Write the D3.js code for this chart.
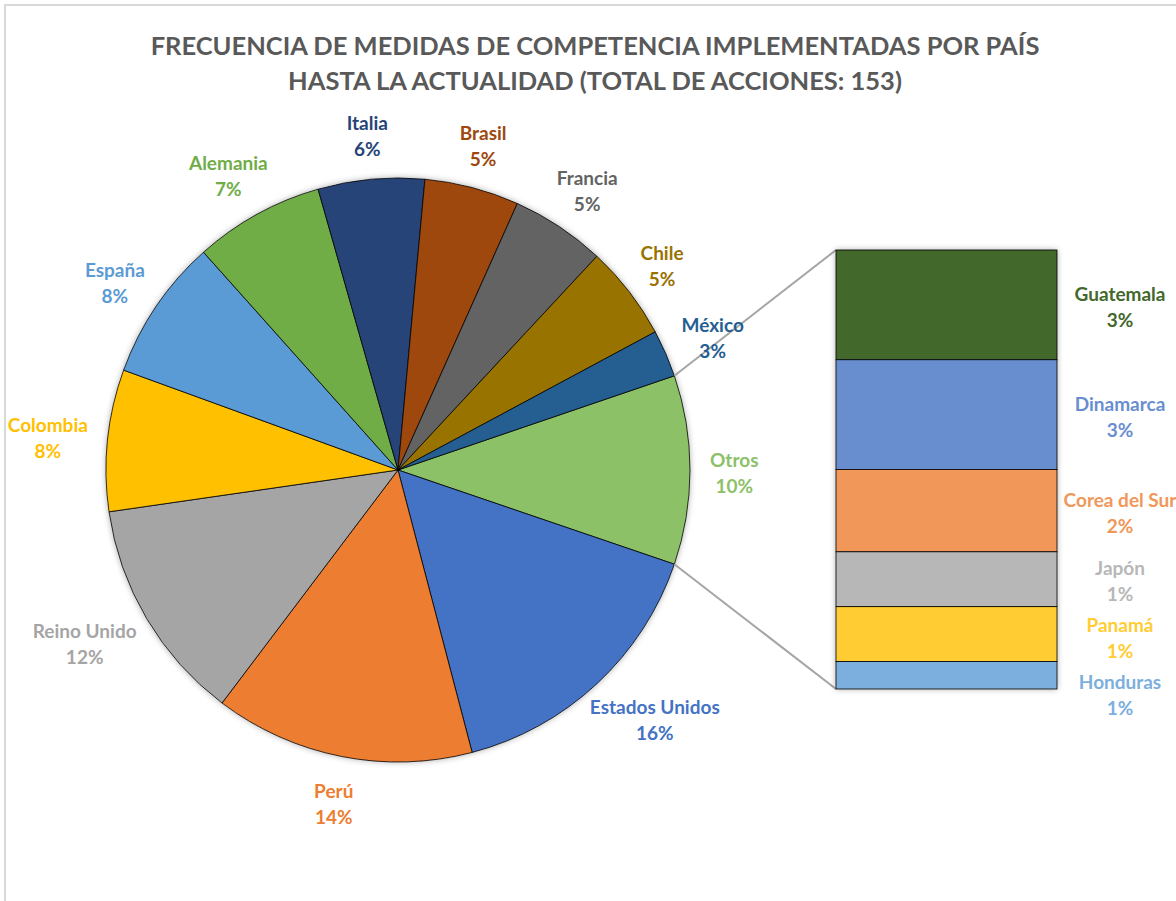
<!DOCTYPE html>
<html>
<head>
<meta charset="utf-8">
<script src="https://cdn.jsdelivr.net/npm/d3@7"></script>
<style>
  html, body { margin: 0; padding: 0; background: #fff; }
  svg { display: block; font-family: Lato, "Open Sans", sans-serif; }
</style>
</head>
<body>
<script>
// main pie, clockwise from the "Otros" slice (centred at 3 o'clock)
const pieNames  = ['Otros', 'Estados Unidos', 'Perú', 'Reino Unido', 'Colombia', 'España',
                   'Alemania', 'Italia', 'Brasil', 'Francia', 'Chile', 'México'];
const pieCounts = [16, 24, 22, 19, 12, 12, 11, 9, 8, 8, 8, 4];
const pieColors = ['#8cc168', '#4472c4', '#ed7d31', '#a5a5a5', '#ffc000', '#5b9bd5',
                   '#70ad47', '#264478', '#9e480e', '#636363', '#997300', '#255e91'];

// breakdown of "Otros" in the stacked bar, top to bottom
const barNames  = ['Guatemala', 'Dinamarca', 'Corea del Sur', 'Japón', 'Panamá', 'Honduras'];
const barCounts = [4, 4, 3, 2, 2, 1];
const barColors = ['#43682b', '#698ed0', '#f1975a', '#b7b7b7', '#ffcd33', '#7cafdd'];

const total = 153;
const titleLines = ['FRECUENCIA DE MEDIDAS DE COMPETENCIA IMPLEMENTADAS POR PAÍS',
                    'HASTA LA ACTUALIDAD (TOTAL DE ACCIONES: 153)'];

const width = 1176, height = 901;
const cx = 398, cy = 470, R = 292;
const bar = { x: 836, y: 250, w: 221, h: 439 };

const pct = v => Math.round(v / total * 100) + '%';

const svg = d3.select('body').append('svg')
    .attr('width', width).attr('height', height);

const defs = svg.append('defs');
defs.append('filter').attr('id', 'shadow')
    .attr('x', '-10%').attr('y', '-10%').attr('width', '120%').attr('height', '120%')
    .append('feDropShadow')
    .attr('dx', 0).attr('dy', 0).attr('stdDeviation', 3)
    .attr('flood-color', '#000').attr('flood-opacity', 0.35);

// chart frame
svg.append('path')
    .attr('d', `M5,${height + 5}V5H${width + 5}`)
    .attr('fill', 'none').attr('stroke', '#d9d9d9').attr('stroke-width', 2);

// title
svg.append('g').selectAll('text')
    .data(titleLines)
    .join('text')
    .attr('x', 595).attr('y', (d, i) => 55 + i * 35)
    .attr('text-anchor', 'middle')
    .attr('font-size', 25.5).attr('font-weight', 700)
    .attr('fill', '#595959')
    .text(d => d);

// pie
const otrosAngle = pieCounts[0] / d3.sum(pieCounts) * 2 * Math.PI;
const pie = d3.pie().sort(null).value(d => d)
    .startAngle(Math.PI / 2 - otrosAngle / 2)
    .endAngle(Math.PI / 2 - otrosAngle / 2 + 2 * Math.PI);
const arcs = pie(pieCounts);
const arc = d3.arc().innerRadius(0).outerRadius(R);

const pieG = svg.append('g').attr('transform', `translate(${cx},${cy})`);
pieG.append('circle').attr('r', R).attr('fill', '#fff').attr('filter', 'url(#shadow)');
pieG.selectAll('path')
    .data(arcs)
    .join('path')
    .attr('d', arc)
    .attr('fill', (d, i) => pieColors[i])
    .attr('stroke', '#000').attr('stroke-width', 0.8);

// connector lines from the "Otros" slice to the bar
const otros = arcs[0];
const edge = a => [cx + R * Math.sin(a), cy - R * Math.cos(a)];
const p1 = edge(otros.startAngle), p2 = edge(otros.endAngle);
svg.append('g')
    .selectAll('line')
    .data([[p1, [bar.x, bar.y]], [p2, [bar.x, bar.y + bar.h]]])
    .join('line')
    .attr('x1', d => d[0][0]).attr('y1', d => d[0][1])
    .attr('x2', d => d[1][0]).attr('y2', d => d[1][1])
    .attr('stroke', '#a5a5a5').attr('stroke-width', 2);

// stacked bar
const y = d3.scaleLinear().domain([0, d3.sum(barCounts)]).range([bar.y, bar.y + bar.h]);
const cum = d3.cumsum(barCounts);
const segs = barCounts.map((v, i) => ({ name: barNames[i], v, y0: cum[i] - v, y1: cum[i], c: barColors[i] }));

const barG = svg.append('g');
barG.append('rect')
    .attr('x', bar.x).attr('y', bar.y).attr('width', bar.w).attr('height', bar.h)
    .attr('fill', '#fff').attr('filter', 'url(#shadow)');
barG.selectAll('rect.seg')
    .data(segs)
    .join('rect')
    .attr('class', 'seg')
    .attr('x', bar.x).attr('y', d => y(d.y0))
    .attr('width', bar.w).attr('height', d => y(d.y1) - y(d.y0))
    .attr('fill', d => d.c)
    .attr('stroke', '#000').attr('stroke-width', 0.8);

// two-line label helper
function label(g, name, value, color) {
    const t = g.append('text')
        .attr('text-anchor', 'middle')
        .attr('font-size', 19).attr('font-weight', 700)
        .attr('fill', color);
    t.append('tspan').attr('x', 0).attr('y', -5).text(name);
    t.append('tspan').attr('x', 0).attr('y', 21).text(pct(value));
    return t;
}

// pie labels: box just outside the slice along its mid angle
arcs.forEach((d, i) => {
    const g = svg.append('g');
    const t = label(g, pieNames[i], pieCounts[i], pieColors[i]);
    const bb = t.node().getBBox();
    const a = (d.startAngle + d.endAngle) / 2;
    const ux = Math.sin(a), uy = -Math.cos(a);
    const r = R + 20;
    const x = cx + r * ux + ux * bb.width / 2;
    const yy = cy + r * uy + uy * 26 - (bb.y + bb.height / 2) + 2;
    g.attr('transform', `translate(${x},${yy})`);
});

// bar labels, pushed down when they would overlap
let last = -Infinity;
segs.forEach(d => {
    let my = (y(d.y0) + y(d.y1)) / 2 + 2;
    my = Math.max(my, last + 57);
    last = my;
    const g = svg.append('g').attr('transform', `translate(${bar.x + bar.w + 63},${my - 1})`);
    label(g, d.name, d.v, d.c);
});
</script>
</body>
</html>
